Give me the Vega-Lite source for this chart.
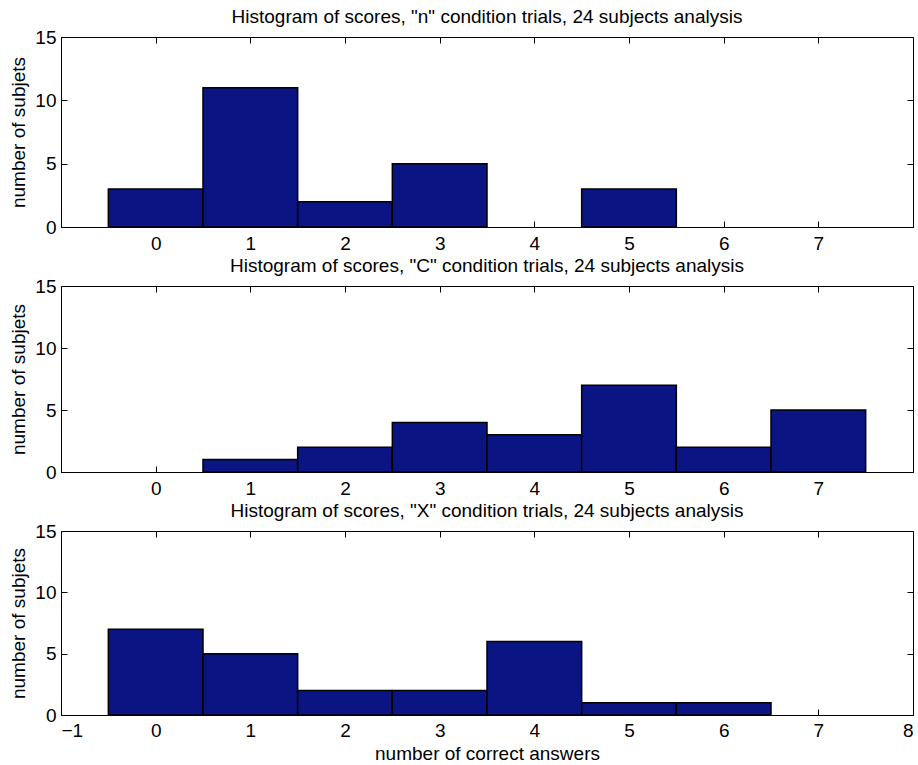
{
  "$schema": "https://vega.github.io/schema/vega-lite/v6.json",
  "padding": {"left": 9, "top": 7, "right": 4, "bottom": 4},
  "config": {
    "font": "Liberation Sans",
    "view": {"stroke": "black", "strokeWidth": 1},
    "axis": {"grid": false, "domainColor": "black", "tickColor": "black", "labelColor": "black", "titleColor": "black", "labelFontSize": 19, "titleFontSize": 19, "titleFontWeight": "normal", "tickSize": -6, "labelPadding": 13.5, "domainWidth": 1, "tickWidth": 1, "labelFont": "Liberation Sans", "titleFont": "Liberation Sans"},
    "axisY": {"labelPadding": 11, "titlePadding": 6},
    "title": {"fontSize": 19, "fontWeight": "normal", "color": "black", "offset": 1, "font": "Liberation Sans"},
    "concat": {"spacing": 2}
  },
  "datasets": {
    "n": [
      {"score": 0, "bin_start": -0.5, "bin_end": 0.5, "count": 3},
      {"score": 1, "bin_start": 0.5, "bin_end": 1.5, "count": 11},
      {"score": 2, "bin_start": 1.5, "bin_end": 2.5, "count": 2},
      {"score": 3, "bin_start": 2.5, "bin_end": 3.5, "count": 5},
      {"score": 5, "bin_start": 4.5, "bin_end": 5.5, "count": 3}
    ],
    "c": [
      {"score": 1, "bin_start": 0.5, "bin_end": 1.5, "count": 1},
      {"score": 2, "bin_start": 1.5, "bin_end": 2.5, "count": 2},
      {"score": 3, "bin_start": 2.5, "bin_end": 3.5, "count": 4},
      {"score": 4, "bin_start": 3.5, "bin_end": 4.5, "count": 3},
      {"score": 5, "bin_start": 4.5, "bin_end": 5.5, "count": 7},
      {"score": 6, "bin_start": 5.5, "bin_end": 6.5, "count": 2},
      {"score": 7, "bin_start": 6.5, "bin_end": 7.5, "count": 5}
    ],
    "x": [
      {"score": 0, "bin_start": -0.5, "bin_end": 0.5, "count": 7},
      {"score": 1, "bin_start": 0.5, "bin_end": 1.5, "count": 5},
      {"score": 2, "bin_start": 1.5, "bin_end": 2.5, "count": 2},
      {"score": 3, "bin_start": 2.5, "bin_end": 3.5, "count": 2},
      {"score": 4, "bin_start": 3.5, "bin_end": 4.5, "count": 6},
      {"score": 5, "bin_start": 4.5, "bin_end": 5.5, "count": 1},
      {"score": 6, "bin_start": 5.5, "bin_end": 6.5, "count": 1}
    ]
  },
  "vconcat": [
    {
      "width": 852, "height": 190,
      "title": "Histogram of scores, \"n\" condition trials, 24 subjects analysis",
      "data": {"name": "n"},
      "layer": [
        {"mark": {"type": "bar", "fill": "#0a1482", "stroke": "black", "strokeWidth": 1.5},
         "encoding": {
           "x": {"field": "bin_start", "type": "quantitative", "scale": {"domain": [-1, 8], "nice": false, "zero": false}, "axis": {"orient": "bottom", "values": [0, 1, 2, 3, 4, 5, 6, 7], "title": null}},
           "x2": {"field": "bin_end"},
           "y": {"field": "count", "type": "quantitative", "scale": {"domain": [0, 15], "nice": false}, "axis": {"orient": "left", "values": [0, 5, 10, 15], "title": "number of subjets"}},
           "y2": {"datum": 0}
         }},
        {"mark": {"type": "bar", "opacity": 0},
         "encoding": {
           "x": {"field": "bin_start", "type": "quantitative", "axis": {"orient": "top", "values": [0, 1, 2, 3, 4, 5, 6, 7], "labels": false, "domain": false, "title": null}},
           "x2": {"field": "bin_end"},
           "y": {"field": "count", "type": "quantitative", "axis": {"orient": "right", "values": [0, 5, 10, 15], "labels": false, "domain": false, "title": null}},
           "y2": {"datum": 0}
         }}
      ],
      "resolve": {"axis": {"x": "independent", "y": "independent"}}
    },
    {
      "width": 852, "height": 186,
      "title": "Histogram of scores, \"C\" condition trials, 24 subjects analysis",
      "data": {"name": "c"},
      "layer": [
        {"mark": {"type": "bar", "fill": "#0a1482", "stroke": "black", "strokeWidth": 1.5},
         "encoding": {
           "x": {"field": "bin_start", "type": "quantitative", "scale": {"domain": [-1, 8], "nice": false, "zero": false}, "axis": {"orient": "bottom", "values": [0, 1, 2, 3, 4, 5, 6, 7], "title": null}},
           "x2": {"field": "bin_end"},
           "y": {"field": "count", "type": "quantitative", "scale": {"domain": [0, 15], "nice": false}, "axis": {"orient": "left", "values": [0, 5, 10, 15], "title": "number of subjets"}},
           "y2": {"datum": 0}
         }},
        {"mark": {"type": "bar", "opacity": 0},
         "encoding": {
           "x": {"field": "bin_start", "type": "quantitative", "axis": {"orient": "top", "values": [0, 1, 2, 3, 4, 5, 6, 7], "labels": false, "domain": false, "title": null}},
           "x2": {"field": "bin_end"},
           "y": {"field": "count", "type": "quantitative", "axis": {"orient": "right", "values": [0, 5, 10, 15], "labels": false, "domain": false, "title": null}},
           "y2": {"datum": 0}
         }}
      ],
      "resolve": {"axis": {"x": "independent", "y": "independent"}}
    },
    {
      "width": 852, "height": 184,
      "title": "Histogram of scores, \"X\" condition trials, 24 subjects analysis",
      "data": {"name": "x"},
      "layer": [
        {"mark": {"type": "bar", "fill": "#0a1482", "stroke": "black", "strokeWidth": 1.5},
         "encoding": {
           "x": {"field": "bin_start", "type": "quantitative", "scale": {"domain": [-1, 8], "nice": false, "zero": false}, "axis": {"orient": "bottom", "values": [-1, 0, 1, 2, 3, 4, 5, 6, 7, 8], "title": "number of correct answers", "labelPadding": 12.5, "titlePadding": 4}},
           "x2": {"field": "bin_end"},
           "y": {"field": "count", "type": "quantitative", "scale": {"domain": [0, 15], "nice": false}, "axis": {"orient": "left", "values": [0, 5, 10, 15], "title": "number of subjets"}},
           "y2": {"datum": 0}
         }},
        {"mark": {"type": "bar", "opacity": 0},
         "encoding": {
           "x": {"field": "bin_start", "type": "quantitative", "axis": {"orient": "top", "values": [0, 1, 2, 3, 4, 5, 6, 7], "labels": false, "domain": false, "title": null}},
           "x2": {"field": "bin_end"},
           "y": {"field": "count", "type": "quantitative", "axis": {"orient": "right", "values": [0, 5, 10, 15], "labels": false, "domain": false, "title": null}},
           "y2": {"datum": 0}
         }}
      ],
      "resolve": {"axis": {"x": "independent", "y": "independent"}}
    }
  ]
}
